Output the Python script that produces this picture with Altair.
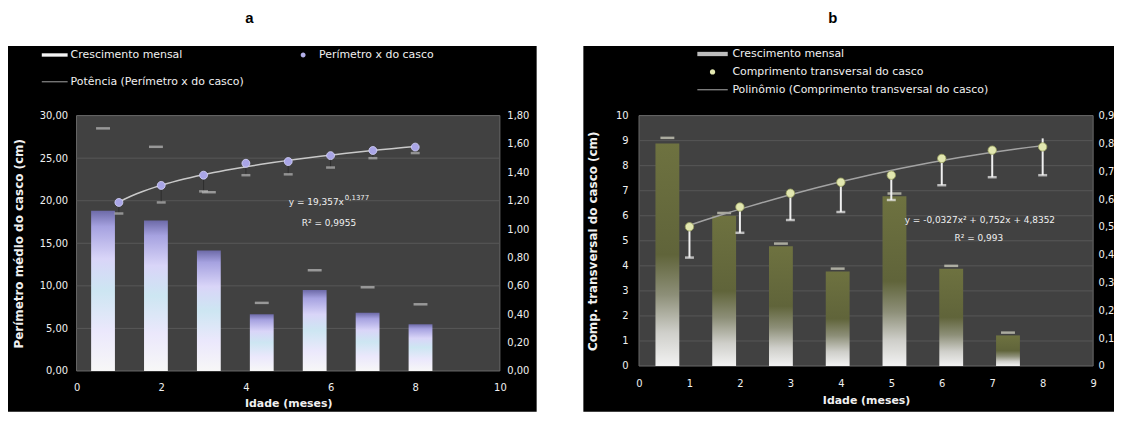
import altair as alt
import pandas as pd

# ---------------- panel a : data ----------------
idade_a = [1, 2, 3, 4, 5, 6, 7, 8]
perimetro_a = [19.8, 21.8, 23.0, 24.4, 24.6, 25.3, 25.9, 26.3]
perimetro_min_a = [18.5, 19.8, 21.1, 23.0, 23.1, 23.9, 25.0, 25.6]
categorias = ["1", "2", "3", "4", "5", "6", "7", "8"]
crescimento_a = [1.13, 1.06, 0.85, 0.40, 0.57, 0.41, 0.33]
crescimento_max_a = [1.71, 1.58, 1.26, 0.48, 0.71, 0.59, 0.47]
ticks_y_a = [0, 5, 10, 15, 20, 25, 30]
ticks_y2_a = [0, 0.2, 0.4, 0.6, 0.8, 1.0, 1.2, 1.4, 1.6, 1.8]
ticks_x_a = [0, 2, 4, 6, 8, 10]
grid_a = [5, 10, 15, 20, 25]
series_a = ["Crescimento mensal", "Perímetro x do casco", "Potência (Perímetro x do casco)"]

# ---------------- panel b : data ----------------
idade_b = [1, 2, 3, 4, 5, 6, 7, 8]
comprimento_b = [5.56, 6.35, 6.90, 7.34, 7.62, 8.29, 8.62, 8.75]
comprimento_min_b = [4.33, 5.32, 5.83, 6.15, 6.63, 7.22, 7.54, 7.62]
comprimento_max_b = [5.56, 6.35, 6.90, 7.34, 7.62, 8.29, 8.62, 9.09]
crescimento_b = [0.80, 0.54, 0.43, 0.34, 0.61, 0.35, 0.11]
crescimento_max_b = [0.82, 0.55, 0.44, 0.35, 0.62, 0.36, 0.12]
ticks_y_b = [0, 1, 2, 3, 4, 5, 6, 7, 8, 9, 10]
ticks_y2_b = [0, 0.1, 0.2, 0.3, 0.4, 0.5, 0.6, 0.7, 0.8, 0.9]
ticks_x_b = [0, 1, 2, 3, 4, 5, 6, 7, 8, 9]
grid_b = [1, 2, 3, 4, 5, 6, 7, 8, 9]
series_b = ["Crescimento mensal", "Comprimento transversal do casco",
            "Polinômio (Comprimento transversal do casco)"]

FONT = "DejaVu Sans"
TXT = "#f0f0f0"
ONE = pd.DataFrame({"k": [0]})


def box(x, x2, y, y2, fill, stroke=None):
    kw = dict(fill=fill, strokeWidth=0)
    if stroke:
        kw = dict(fill=fill, stroke=stroke, strokeWidth=1)
    return alt.Chart(ONE).mark_rect(**kw).encode(
        x=alt.value(x), x2=alt.value(x2), y=alt.value(y), y2=alt.value(y2))


def label(x, y, text, size, color=TXT, align="center", weight="normal", font=FONT):
    return alt.Chart(ONE).mark_text(
        align=align, baseline="middle", fontSize=size, font=font,
        fontWeight=weight, color=color).encode(
        x=alt.value(x), y=alt.value(y), text=alt.value(text))


def panel(c):
    W, H = c["W"], c["H"]
    # legend source: drawn first, hidden under the panel background
    ldf = pd.DataFrame({"serie": c["series"]})
    lg = alt.Legend(title=None, orient="none", legendX=c["lx"], legendY=c["ly"],
                    columns=c["cols"], direction="horizontal", symbolSize=c["ss"],
                    labelOffset=c["lo"], columnPadding=c["cp"], rowPadding=c["rp"],
                    labelColor=TXT, labelFont=FONT, labelFontSize=11, labelLimit=500,
                    symbolStrokeWidth=0, padding=0, zindex=2)
    legend = alt.Chart(ldf).mark_point(filled=True, opacity=1).encode(
        x=alt.value(20), y=alt.value(20),
        color=alt.Color("serie:N", scale=alt.Scale(domain=c["series"], range=c["lcolors"]),
                        legend=lg),
        shape=alt.Shape("serie:N", scale=alt.Scale(domain=c["series"], range=c["shapes"]),
                        legend=lg))

    # background decorations
    white = box(c["white"][0], c["white"][1], -107, 298, "white")
    black = box(c["black"][0], c["black"][1], -70, 298, "black")
    plotbg = box(0, W, 0, H, "#414141", "#6a6a6a")
    letter = label(c["letter_x"], -98, c["letter"], 15, color="black",
                   weight="bold", font="Liberation Sans")

    # gridlines at the left-axis ticks
    gdf = pd.DataFrame({"g": c["grid"]})
    grid = alt.Chart(gdf).mark_rule(color="#585858", strokeWidth=1).encode(
        y=alt.Y("g:Q", scale=alt.Scale(domain=[0, c["ymax"]], nice=False), axis=None),
        x=alt.value(0), x2=alt.value(W))

    # bars (monthly growth) on category axis + right y axis
    bdf = pd.DataFrame({"cat": categorias[:len(c["cresc"])],
                        "v": c["cresc"], "top": c["cresc_max"]})
    xb = alt.X("cat:N", scale=alt.Scale(domain=categorias, paddingInner=c["pin"],
                                        paddingOuter=c["pin"] / 2), axis=None)
    ax_r = alt.Axis(orient="right", values=c["ticks_y2"], labelExpr=c["y2expr"],
                    title=None, labelPadding=c["rpad"], labelAlign="left", zindex=1)
    sy2 = alt.Scale(domain=[0, c["y2max"]], nice=False)
    bars = alt.Chart(bdf).mark_bar(fill=c["grad"], strokeWidth=0).encode(
        x=xb, y=alt.Y("v:Q", scale=sy2, axis=ax_r))
    caps = alt.Chart(bdf).mark_tick(orient="horizontal", color=c["bcap"],
                                    size=14, thickness=2.5).encode(
        x=xb, y=alt.Y("top:Q", scale=sy2, axis=ax_r))
    bar_layer = alt.layer(bars, caps)

    # points, error bars, trend line
    pdf = pd.DataFrame({"idade": c["idade"], "valor": c["val"],
                        "minimo": c["vmin"], "maximo": c["vmax"]})
    ax_y = alt.Axis(values=c["ticks_y"], labelExpr=c["yexpr"], title=c["ytitle"],
                    titleFontSize=12, titlePadding=c["ytpad"], labelPadding=c["ylpad"],
                    zindex=1)
    ax_x = alt.Axis(values=c["ticks_x"], format="d", title="Idade (meses)",
                    titleFontSize=11, labelPadding=c["xlpad"], titlePadding=c["xtpad"],
                    labelFlush=False, zindex=1)
    sx = alt.Scale(domain=[0, c["xmax"]], nice=False, zero=False)
    sy = alt.Scale(domain=[0, c["ymax"]], nice=False)
    X = alt.X("idade:Q", scale=sx, axis=ax_x)

    def Y(f):
        return alt.Y(f + ":Q", scale=sy, axis=ax_y)

    err = alt.Chart(pdf).mark_rule(color=c["err_color"], strokeWidth=c["err_w"]).encode(
        x=X, y=Y("minimo"), y2="maximo:Q")
    ecap = alt.Chart(pdf).mark_tick(orient="horizontal", color=c["ecap_color"],
                                    size=9, thickness=2.5).encode(x=X, y=Y("minimo"))
    trend = alt.Chart(pdf).transform_regression(
        "idade", "valor", **c["reg"]).mark_line(
        color=c["trend_color"], strokeWidth=1.5).encode(x=X, y=Y("valor"))
    dots = alt.Chart(pdf).mark_point(
        filled=True, shape=c["shapes"][1], size=c["pt_size"], color=c["pt_color"],
        stroke=c["pt_stroke"], strokeWidth=0.8, opacity=1).encode(x=X, y=Y("valor"))

    texts = [label(*t) for t in c["texts"]]
    pts_layer = alt.layer(err, ecap, trend, dots, *texts)

    return alt.layer(legend, white, black, plotbg, letter, grid, bar_layer,
                     pts_layer).resolve_scale(
        x="independent", y="independent").properties(width=W, height=H)


comma2 = "replace(format(datum.value, '.2f'), '.', ',')"

cfg_a = dict(
    W=426, H=257, white=(-69, 498), black=(-69, 463), letter="a", letter_x=174,
    grid=grid_a, ymax=30, y2max=1.8, xmax=10,
    cresc=crescimento_a, cresc_max=crescimento_max_a, pin=0.55,
    ticks_y2=ticks_y2_a, y2expr=comma2, rpad=7,
    grad={"gradient": "linear", "x1": 0, "x2": 0, "y1": 0, "y2": 1,
          "stops": [{"offset": 0, "color": "#6d6aa8"}, {"offset": 0.1, "color": "#a6a2e0"},
                    {"offset": 0.3, "color": "#d9d5f8"}, {"offset": 0.5, "color": "#cde6f2"},
                    {"offset": 0.75, "color": "#ebe8fc"}, {"offset": 1, "color": "#f7f7f7"}]},
    bcap="#bdbdbd",
    idade=idade_a, val=perimetro_a, vmin=perimetro_min_a, vmax=perimetro_a,
    ticks_y=ticks_y_a, yexpr=comma2, ytitle="Perímetro médio do casco (cm)",
    ytpad=14, ylpad=9, ticks_x=ticks_x_a, xlpad=12, xtpad=5,
    err_color="#2e2e2e", err_w=1, ecap_color="#b5b5b5",
    reg=dict(method="pow"), trend_color="#c9c9c9",
    pt_size=1770, pt_color="#a9a5e6", pt_stroke="#d8d6ff",
    series=series_a, lcolors=["#f4f4f4", "#b4b0ea", "#b5b5b5"],
    shapes=["M-1,-0.13H1V0.13H-1Z",
            "M0.19,0A0.19,0.19,0,1,1,-0.19,0A0.19,0.19,0,1,1,0.19,0Z",
            "M-1,-0.035H1V0.035H-1Z"],
    lx=-35, ly=-74, cols=2, ss=676, lo=3, cp=46, rp=9,
    texts=[(269, 87, "y = 19,357x", 9, TXT, "right"),
           (270, 83, "0,1377", 7, TXT, "left"),
           (254, 108, "R² = 0,9955", 9)],
)

cfg_b = dict(
    W=457, H=252, white=(-68, 478), black=(-56, 478), letter="b", letter_x=195,
    grid=grid_b, ymax=10, y2max=0.9, xmax=9,
    cresc=crescimento_b, cresc_max=crescimento_max_b, pin=0.58,
    ticks_y2=ticks_y2_b,
    y2expr="datum.value == 0 ? '0' : replace(format(datum.value, '.1f'), '.', ',')", rpad=5,
    grad={"gradient": "linear", "x1": 0, "x2": 0, "y1": 0, "y2": 1,
          "stops": [{"offset": 0, "color": "#6e7240"}, {"offset": 0.5, "color": "#60643a"},
                    {"offset": 0.68, "color": "#8d8f78"}, {"offset": 0.85, "color": "#cfcfca"},
                    {"offset": 1, "color": "#f2f2f2"}]},
    bcap="#d8d8c8",
    idade=idade_b, val=comprimento_b, vmin=comprimento_min_b, vmax=comprimento_max_b,
    ticks_y=ticks_y_b, yexpr="format(datum.value, 'd')",
    ytitle="Comp. transversal do casco (cm)",
    ytpad=16, ylpad=11, ticks_x=ticks_x_b, xlpad=13, xtpad=6,
    err_color="#f0f0f0", err_w=2, ecap_color="#f0f0f0",
    reg=dict(method="poly", order=2), trend_color="#a3a3a3",
    pt_size=800, pt_color="#e2e7b0", pt_stroke="#9aa060",
    series=series_b, lcolors=["#bdbdbd", "#e2e7b0", "#a0a0a0"],
    shapes=["M-1.7,-0.24H1.7V0.24H-1.7Z",
            "M0.3,0A0.3,0.3,0,1,1,-0.3,0A0.3,0.3,0,1,1,0.3,0Z",
            "M-1.7,-0.06H1.7V0.06H-1.7Z"],
    lx=65, ly=-71, cols=1, ss=324, lo=11, cp=10, rp=4,
    texts=[(343, 105, "y = -0,0327x² + 0,752x + 4,8352", 9),
           (342, 123, "R² = 0,993", 9)],
)

chart = alt.hconcat(panel(cfg_a), panel(cfg_b), spacing=0).resolve_scale(
    color="independent", shape="independent").resolve_legend(
    color="independent", shape="independent").properties(
    padding=0, background="white").configure_view(stroke=None).configure_axis(
    domain=False, ticks=False, tickSize=0, grid=False, labelColor=TXT, labelFont=FONT,
    labelFontSize=10, titleColor=TXT, titleFont=FONT, titleFontWeight="bold", zindex=1)

chart.save("out.html", embed_options={"renderer": "svg", "actions": False})
